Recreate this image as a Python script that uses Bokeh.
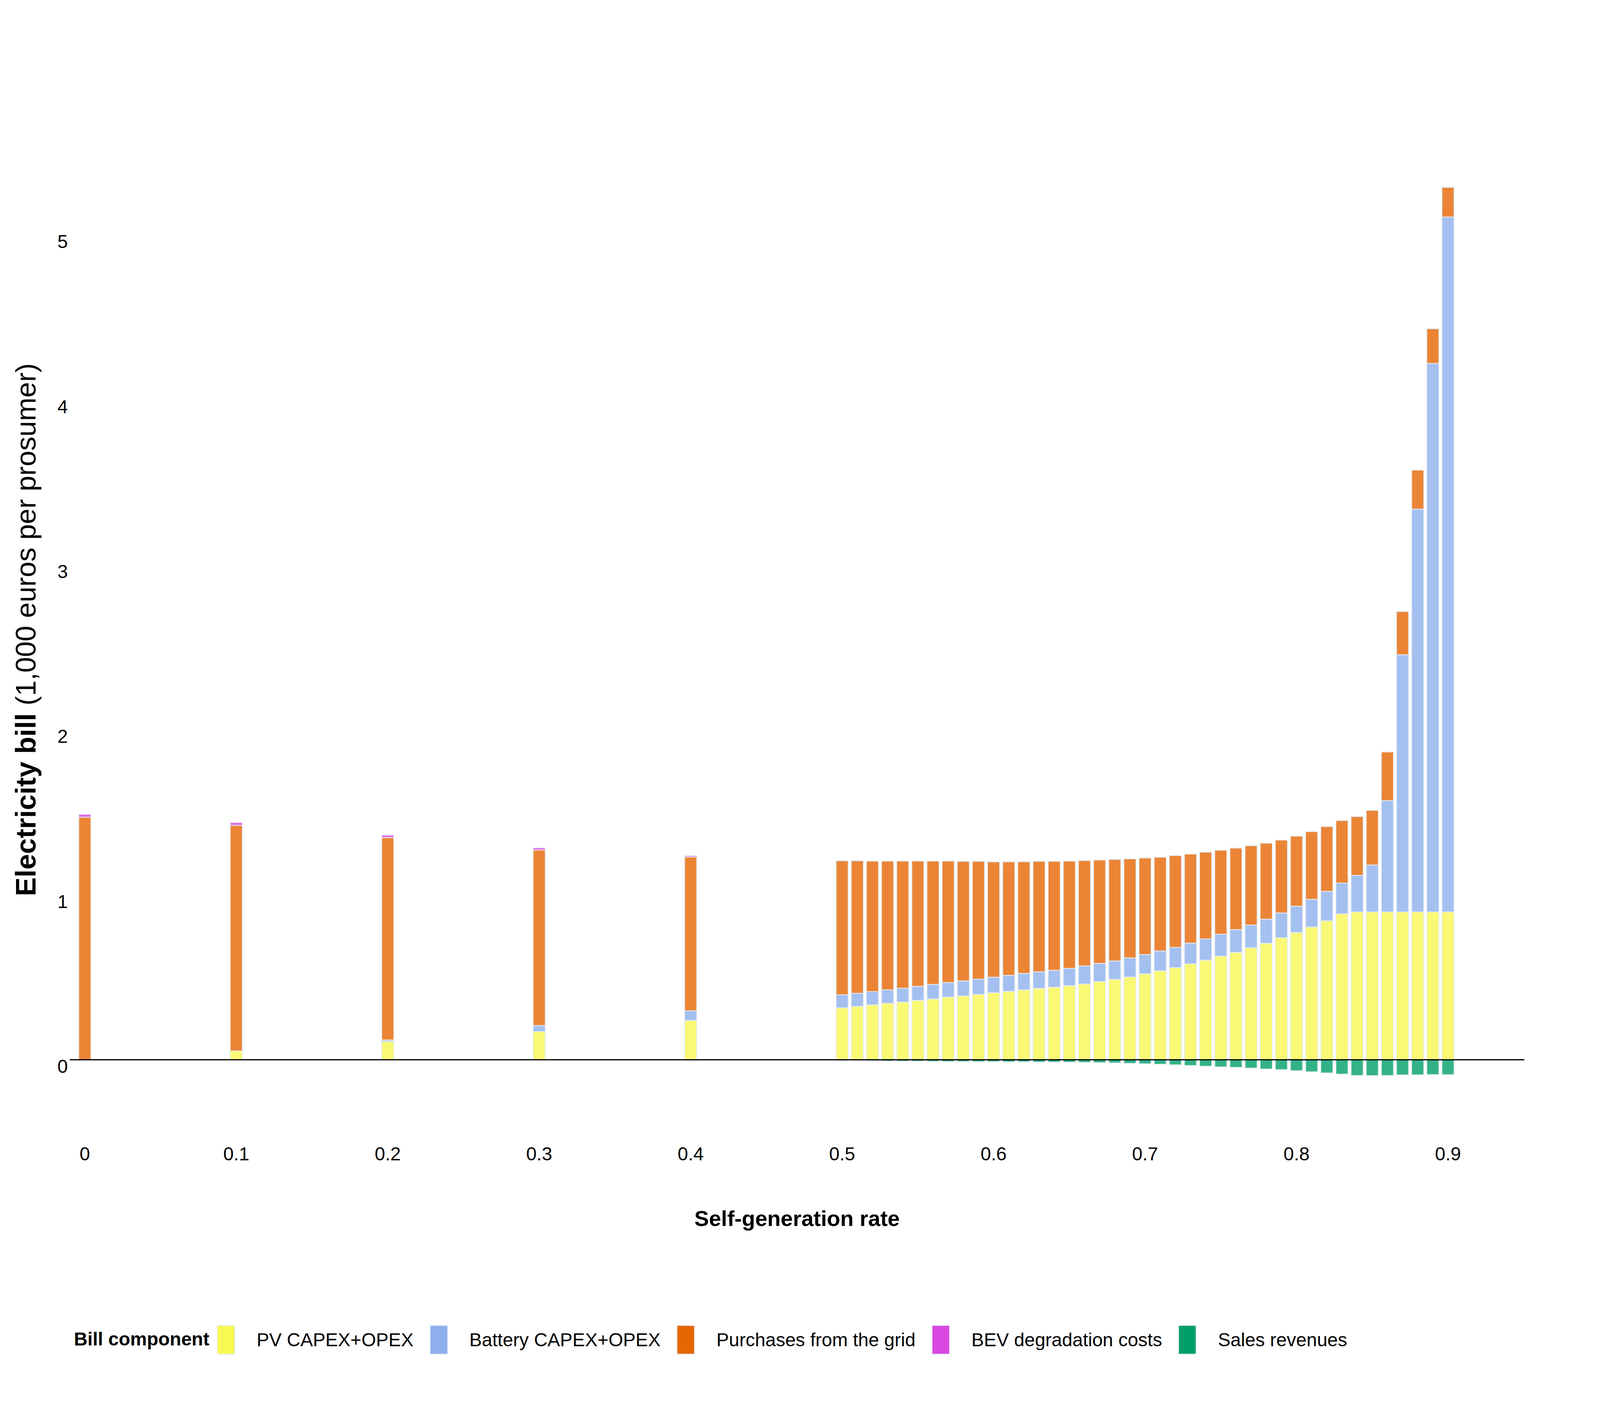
import math
from bokeh.plotting import figure
from bokeh.models import ColumnDataSource, Legend, LegendItem, Range1d
from bokeh.core.properties import value
from bokeh.embed import file_html
from bokeh.resources import INLINE

# ---------------- data ----------------
rate = [0.0, 0.1, 0.2, 0.3, 0.4,
        0.50, 0.51, 0.52, 0.53, 0.54, 0.55, 0.56, 0.57, 0.58, 0.59,
        0.60, 0.61, 0.62, 0.63, 0.64, 0.65, 0.66, 0.67, 0.68, 0.69,
        0.70, 0.71, 0.72, 0.73, 0.74, 0.75, 0.76, 0.77, 0.78, 0.79,
        0.80, 0.81, 0.82, 0.83, 0.84, 0.85, 0.86, 0.87, 0.88, 0.89, 0.90]

pv = [0.0, 0.054, 0.111, 0.171, 0.238,
      0.315, 0.324, 0.333, 0.342, 0.350, 0.360, 0.369, 0.380, 0.387, 0.396,
      0.406, 0.415, 0.424, 0.433, 0.440, 0.449, 0.459, 0.474, 0.487, 0.502,
      0.521, 0.539, 0.559, 0.581, 0.604, 0.628, 0.651, 0.679, 0.706, 0.740,
      0.771, 0.805, 0.843, 0.885, 0.896, 0.896, 0.896, 0.896, 0.896, 0.896, 0.896]

battery = [0.0, 0.0, 0.009, 0.037, 0.059,
           0.079, 0.079, 0.080, 0.082, 0.084, 0.085, 0.088, 0.088, 0.091, 0.093,
           0.095, 0.097, 0.099, 0.100, 0.102, 0.105, 0.110, 0.110, 0.112, 0.116,
           0.117, 0.121, 0.122, 0.126, 0.129, 0.133, 0.138, 0.138, 0.146, 0.150,
           0.160, 0.168, 0.178, 0.186, 0.222, 0.285, 0.675, 1.559, 2.442, 3.325, 4.213]

grid = [1.471, 1.367, 1.227, 1.064, 0.932,
        0.813, 0.804, 0.792, 0.781, 0.771, 0.760, 0.748, 0.737, 0.725, 0.714,
        0.699, 0.688, 0.678, 0.670, 0.661, 0.651, 0.639, 0.627, 0.616, 0.600,
        0.586, 0.568, 0.557, 0.540, 0.525, 0.509, 0.495, 0.481, 0.461, 0.442,
        0.425, 0.410, 0.393, 0.379, 0.357, 0.331, 0.295, 0.263, 0.237, 0.211, 0.180]

bev = [0.017, 0.017, 0.015, 0.013, 0.008,
       0.0, 0.0, 0.0, 0.0, 0.0, 0.0, 0.0, 0.0, 0.0, 0.0,
       0.0, 0.0, 0.0, 0.0, 0.0, 0.0, 0.0, 0.0, 0.0, 0.0,
       0.0, 0.0, 0.0, 0.0, 0.0, 0.0, 0.0, 0.0, 0.0, 0.0,
       0.0, 0.0, 0.0, 0.0, 0.0, 0.0, 0.0, 0.0, 0.0, 0.0, 0.0]

sales = [0.0, 0.0, 0.0, -0.002, -0.004,
         -0.006, -0.006, -0.007, -0.008, -0.009, -0.009, -0.010, -0.011, -0.011, -0.012,
         -0.012, -0.013, -0.013, -0.014, -0.014, -0.015, -0.016, -0.018, -0.019, -0.022,
         -0.024, -0.027, -0.031, -0.035, -0.039, -0.043, -0.046, -0.050, -0.056, -0.060,
         -0.066, -0.073, -0.080, -0.087, -0.095, -0.096, -0.095, -0.092, -0.091, -0.090, -0.090]

series_names = ["PV CAPEX+OPEX", "Battery CAPEX+OPEX", "Purchases from the grid",
                "BEV degradation costs", "Sales revenues"]
series_colors = ["#F8F852", "#8DB0EC", "#E66603", "#D946E0", "#009F69"]

x_ticks = [0, 0.1, 0.2, 0.3, 0.4, 0.5, 0.6, 0.7, 0.8, 0.9]
x_tick_labels = ["0", "0.1", "0.2", "0.3", "0.4", "0.5", "0.6", "0.7", "0.8", "0.9"]
y_ticks = [0, 1, 2, 3, 4, 5]
y_tick_labels = ["0", "1", "2", "3", "4", "5"]

x_title = "Self-generation rate"
y_title_bold = "Electricity bill"
y_title_rest = "(1,000 euros per prosumer)"
legend_title = "Bill component"

# ---------------- layout / styling ----------------
FONT = "Liberation Sans"
OUTLINE = "#E5ECF6"
BAR_W = 0.008
W, H = 4080, 3584

# data-space extent of the whole canvas and of the plotting area
X_VIEW = (-0.055878, 0.99636)
Y_VIEW = (-2.0620, 6.4228)
AXIS_X0, AXIS_X1 = -0.00992, 0.95042      # extent of the zero line

TICK_FS = "48px"
XTITLE_FS = "56px"
YTITLE_FS = "72px"

p = figure(width=W, height=H, output_backend="svg", toolbar_location=None,
           x_range=Range1d(*X_VIEW), y_range=Range1d(*Y_VIEW),
           x_axis_location=None, y_axis_location=None, min_border=0)
p.outline_line_color = None
p.background_fill_color = "white"
p.border_fill_color = "white"
p.xgrid.visible = False
p.ygrid.visible = False

src = ColumnDataSource(dict(rate=rate, pv=pv, battery=battery, grid=grid,
                            bev=bev, sales=sales))

p.vbar_stack(["pv", "battery", "grid", "bev"], x="rate", width=BAR_W, source=src,
             fill_color=series_colors[:4], fill_alpha=0.8,
             line_color=OUTLINE, line_width=2)
p.vbar(x="rate", top=0, bottom="sales", width=BAR_W, source=src,
       fill_color=series_colors[4], fill_alpha=0.8,
       line_color=OUTLINE, line_width=2)

# zero line
p.segment(x0=[AXIS_X0], y0=[0], x1=[AXIS_X1], y1=[0], line_color="#000000", line_width=3)

# x tick labels
p.text(x=x_ticks, y=[-0.571] * len(x_ticks), text=x_tick_labels,
       text_font=value(FONT), text_font_size=TICK_FS, text_color="#000000",
       text_align="center", text_baseline="alphabetic")
# y tick labels
p.text(x=[-0.0112] * len(y_ticks), y=[t - 0.0407 for t in y_ticks], text=y_tick_labels,
       text_font=value(FONT), text_font_size=TICK_FS, text_color="#000000",
       text_align="right", text_baseline="alphabetic")

# axis titles
p.text(x=[0.47025], y=[-0.9612], text=[x_title],
       text_font=value(FONT), text_font_size=XTITLE_FS, text_font_style="bold",
       text_color="#000000", text_align="center", text_baseline="alphabetic")
p.text(x=[-0.03911], y=[0.9920], text=[y_title_bold], angle=math.pi / 2,
       text_font=value(FONT), text_font_size=YTITLE_FS, text_font_style="bold",
       text_color="#000000", text_align="left", text_baseline="alphabetic")
p.text(x=[-0.03911], y=[2.1477], text=[y_title_rest], angle=math.pi / 2,
       text_font=value(FONT), text_font_size=YTITLE_FS, text_font_style="normal",
       text_color="#000000", text_align="left", text_baseline="alphabetic")

# legend
p.text(x=[-0.0072], y=[-1.6932], text=[legend_title],
       text_font=value(FONT), text_font_size=TICK_FS, text_font_style="bold",
       text_color="#000000", text_align="left", text_baseline="alphabetic")

items = []
for name, col in zip(series_names, series_colors):
    r = p.vbar(x=[float("nan")], top=[float("nan")], width=BAR_W, fill_color=col,
               line_color=OUTLINE, line_width=2)
    items.append(LegendItem(label=name, renderers=[r]))
legend = Legend(items=items, orientation="horizontal", location=(550, 108),
                glyph_width=56, glyph_height=92, label_standoff=51, spacing=36,
                padding=0, margin=0, border_line_color=None,
                background_fill_alpha=0, label_text_font=FONT,
                label_text_font_size=TICK_FS, label_text_color="#000000")
p.add_layout(legend)

open("out.html", "w").write(file_html(p, INLINE))
